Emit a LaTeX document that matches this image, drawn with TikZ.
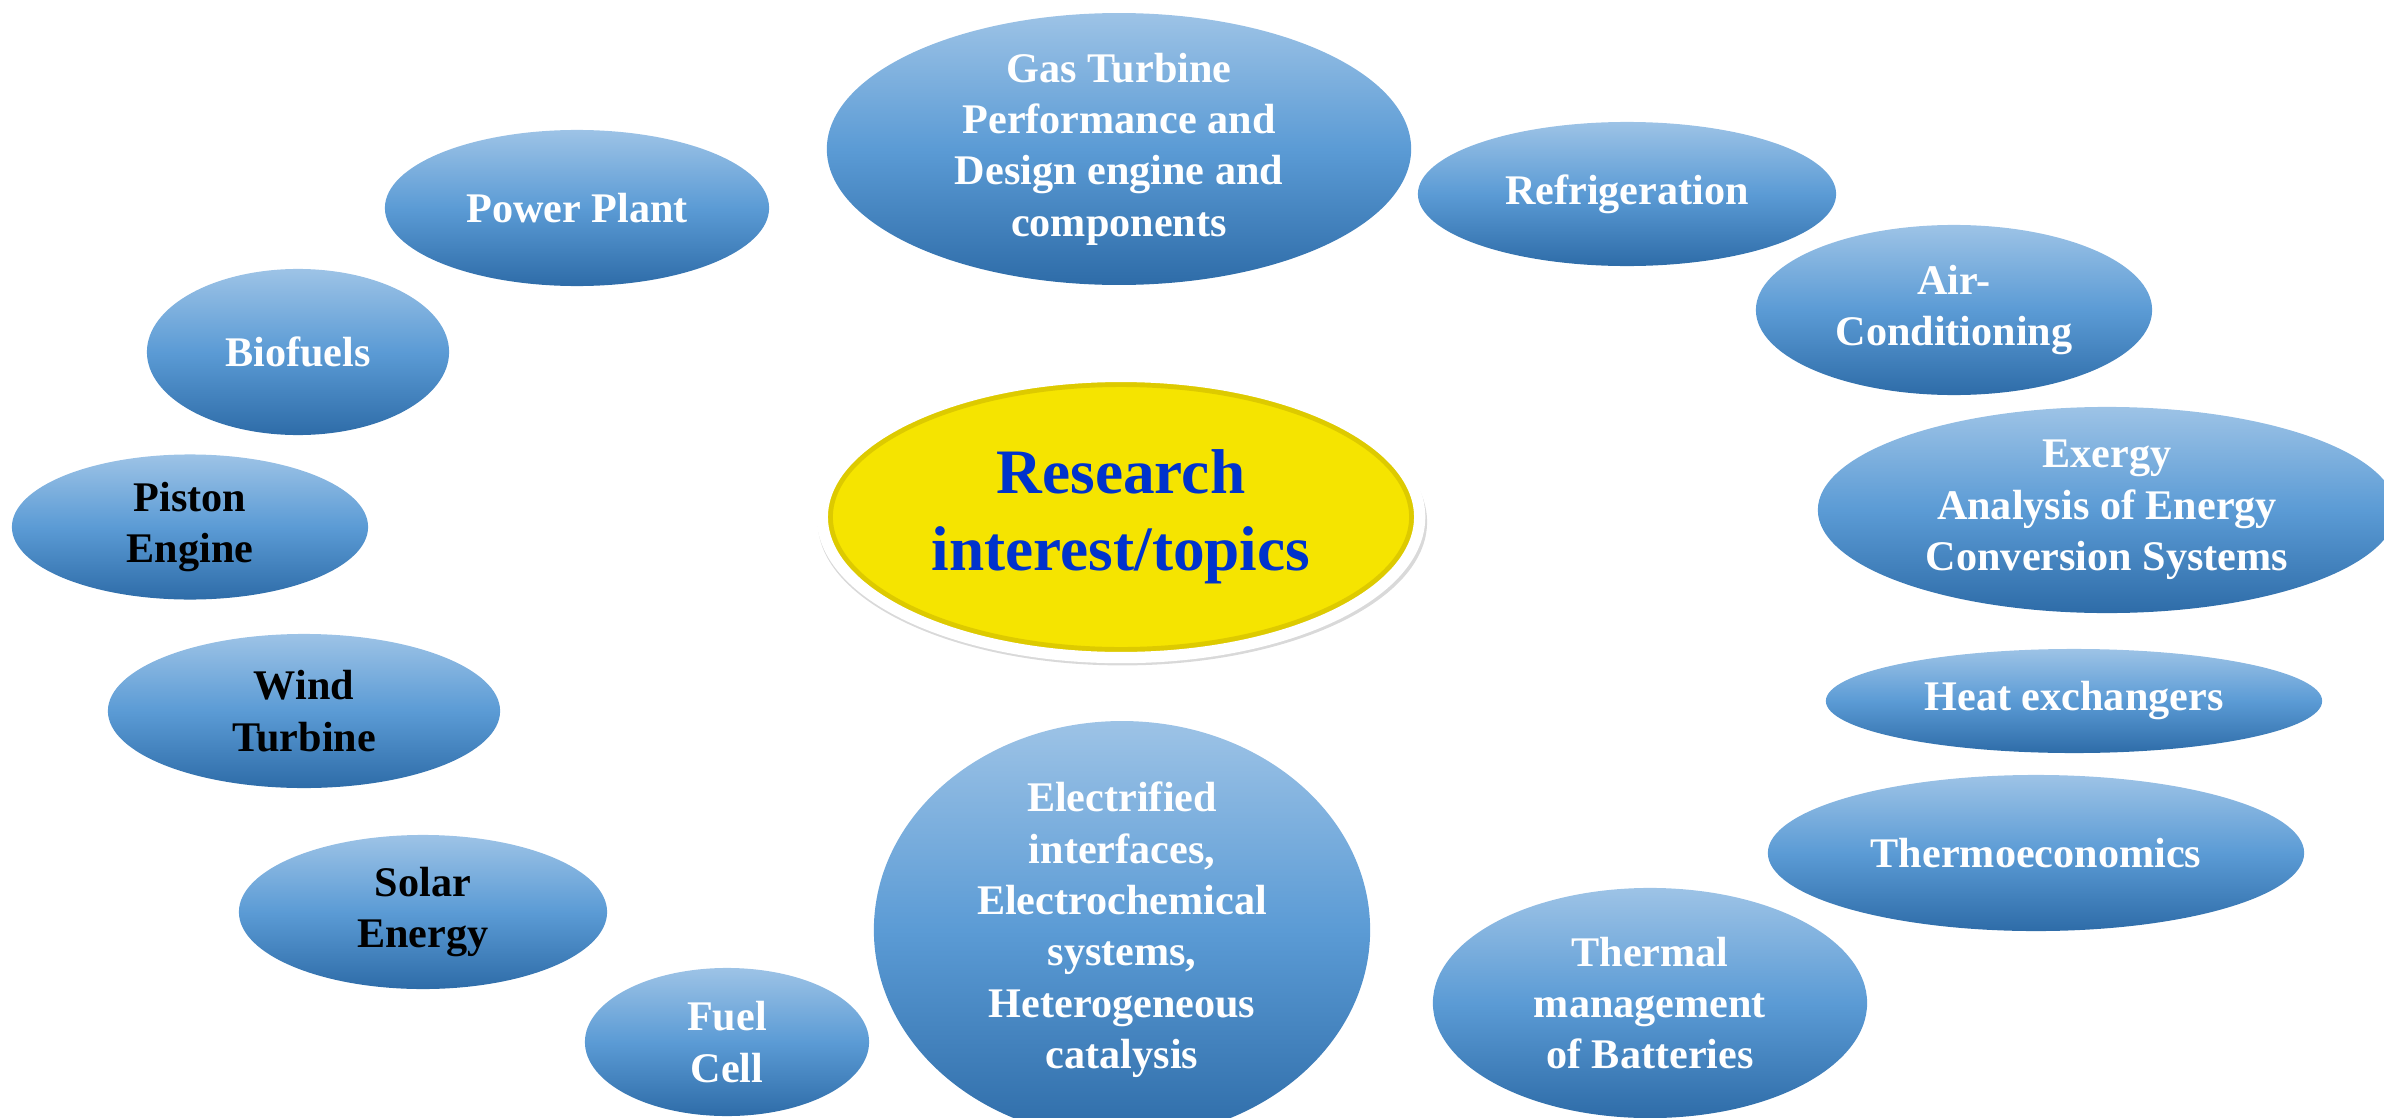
\documentclass[tikz,border=0pt]{standalone}
\usepackage{fontspec}
\setmainfont{Liberation Serif}
\usetikzlibrary{shapes.geometric,shadows}

\definecolor{bluetop}{RGB}{157,195,230}
\definecolor{bluemid}{RGB}{91,155,213}
\definecolor{bluebot}{RGB}{46,108,168}
\definecolor{hubyellow}{RGB}{245,228,0}
\definecolor{hubedge}{RGB}{205,185,0}
\definecolor{hubtext}{RGB}{0,51,204}

\tikzset{
  topic/.style={ellipse, inner sep=0pt, align=center,
    top color=bluetop, bottom color=bluebot, middle color=bluemid,
    text=white, font=\fontsize{12}{14.6}\selectfont\bfseries},
  darktopic/.style={topic, text=black},
  hub/.style={ellipse, inner sep=0pt, align=center, fill=hubyellow,
    postaction={draw=white, line width=3.2pt}, text=hubtext,
    font=\fontsize{18}{22}\selectfont\bfseries,
    drop shadow={opacity=0.3, shadow xshift=0.4pt, shadow yshift=-1.4pt, shadow scale=1.02}}
}

\begin{document}
\begin{tikzpicture}[x=0.01cm, y=-0.01cm]
    % Page (pixel grid of the slide)
    \useasboundingbox (0, 0) rectangle (2384, 1118);

    % Centre
    \node[hub, minimum width=5.97cm, minimum height=2.81cm,
          path picture={\draw[hubedge, line width=6pt, opacity=0.6]
            (path picture bounding box.center) ellipse (2.985cm and 1.405cm);}]
          (research) at (1121, 517) {Research\\interest/topics};

    % Top row
    \node[topic, minimum width=5.84cm, minimum height=2.71cm] (gasturbine) at (1119, 149) {Gas Turbine\\Performance and\\Design engine and\\components};
    \node[topic, minimum width=3.84cm, minimum height=1.56cm] (powerplant) at (577, 208) {Power Plant};
    \node[topic, minimum width=4.18cm, minimum height=1.44cm] (refrigeration) at (1627, 194) {Refrigeration};

    % Left side
    \node[topic, minimum width=3.02cm, minimum height=1.66cm] (biofuels) at (298, 352) {Biofuels};
    \node[darktopic, minimum width=3.56cm, minimum height=1.45cm] (piston) at (190, 527) {Piston\\Engine};
    \node[darktopic, minimum width=3.92cm, minimum height=1.54cm] (wind) at (304, 711) {Wind\\Turbine};
    \node[darktopic, minimum width=3.68cm, minimum height=1.54cm] (solar) at (423, 912) {Solar\\Energy};

    % Right side
    \node[topic, minimum width=3.96cm, minimum height=1.70cm] (aircond) at (1954, 310) {Air-\\Conditioning};
    \node[topic, minimum width=5.78cm, minimum height=2.06cm] (exergy) at (2107, 510) {Exergy\\Analysis of Energy\\Conversion Systems};
    \node[topic, minimum width=4.96cm, minimum height=1.04cm] (heatex) at (2074, 701) {Heat exchangers};
    \node[topic, minimum width=5.36cm, minimum height=1.56cm] (thermoeco) at (2036, 853) {Thermoeconomics};

    % Bottom row
    \node[topic, minimum width=2.84cm, minimum height=1.48cm] (fuelcell) at (727, 1042) {Fuel\\Cell};
    \node[topic, minimum width=4.96cm, minimum height=3.80cm] (electrified) at (1122, 930) {Electrified\\interfaces,\\Electrochemical\\systems,\\Heterogeneous\\catalysis};
    \node[topic, minimum width=4.34cm, minimum height=2.30cm] (thermal) at (1650, 1003) {Thermal\\management\\of Batteries};
\end{tikzpicture}
\end{document}
